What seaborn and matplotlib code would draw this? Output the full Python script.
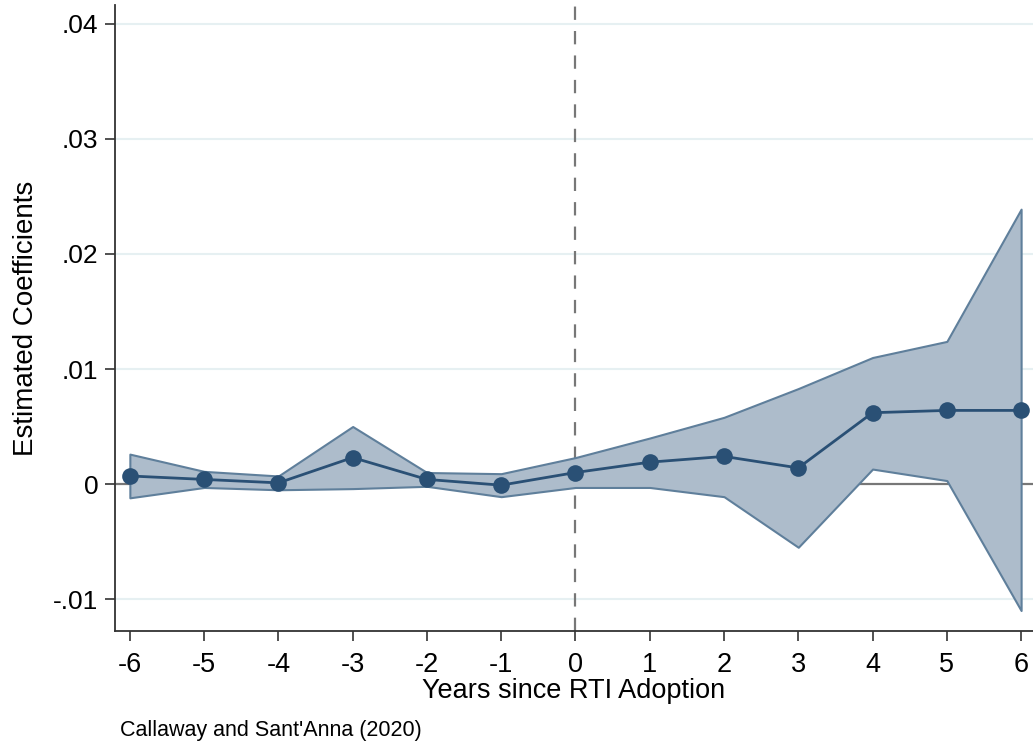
import numpy as np
import pandas as pd
import matplotlib
matplotlib.use("Agg")
import matplotlib.pyplot as plt
import seaborn as sns

years = [-6, -5, -4, -3, -2, -1, 0, 1, 2, 3, 4, 5, 6]
coef = [0.0007, 0.0004, 0.0001, 0.0023, 0.0004, -0.0001, 0.0010, 0.0019, 0.0024, 0.0014, 0.0062, 0.0064, 0.0064]
upper = [0.0026, 0.0011, 0.0007, 0.0050, 0.0010, 0.0009, 0.0023, 0.0040, 0.0058, 0.0083, 0.0110, 0.0124, 0.0239]
lower = [-0.0012, -0.0003, -0.0005, -0.0004, -0.0002, -0.0011, -0.0003, -0.0003, -0.0011, -0.0055, 0.0013, 0.0003, -0.0110]
yticks = [-0.01, 0, 0.01, 0.02, 0.03, 0.04]
ytick_labels = ["-.01", "0", ".01", ".02", ".03", ".04"]

df = pd.DataFrame({"year": years, "coef": coef, "upper": upper, "lower": lower})

sns.set_theme(style="white")
plt.rcParams["font.family"] = ["Liberation Sans", "DejaVu Sans"]
plt.rcParams["text.color"] = "black"
plt.rcParams["axes.labelcolor"] = "black"
plt.rcParams["xtick.color"] = "black"
plt.rcParams["ytick.color"] = "black"

fig = plt.figure(figsize=(10.33, 7.44), dpi=100)
ax = fig.add_axes([115 / 1033, 1 - 631 / 744, (1033 - 115) / 1033, (631 - 5) / 744])

dark = "#2a5075"
for yv in yticks:
    if yv != 0:
        ax.axhline(yv, color="#e6f0f2", lw=1.5, zorder=0)
ax.axhline(0, color="#777777", lw=1.6, zorder=1)
ax.axvline(0, color="#777777", lw=1.6, ls=(0, (6, 5)), zorder=1)

ax.fill_between(df["year"], df["lower"], df["upper"], facecolor="#adbccb",
                edgecolor="#5f7f9b", lw=1.5, zorder=2, clip_on=True)
sns.lineplot(data=df, x="year", y="coef", ax=ax, color=dark, lw=2,
             marker="o", markersize=12, markeredgewidth=0, zorder=3)

ax.set_xlim(-6.2, 6.16)
ax.set_ylim(-0.01278, 0.04165)
ax.set_xticks(years)
ax.set_xticklabels([str(y) for y in years], fontsize=19.5)
ax.set_yticks(yticks)
ax.set_yticklabels(ytick_labels, fontsize=19)
ax.tick_params(axis="both", which="both", length=7, width=1.2, color="#333333",
               direction="out", bottom=True, left=True)
ax.tick_params(axis="x", pad=8)
ax.tick_params(axis="y", pad=5)
ax.set_xlabel("Years since RTI Adoption", fontsize=19.5, labelpad=0)
ax.set_ylabel("Estimated Coefficients", fontsize=20, labelpad=10)
for s in ["top", "right"]:
    ax.spines[s].set_visible(False)
for s in ["left", "bottom"]:
    ax.spines[s].set_color("#333333")
    ax.spines[s].set_linewidth(1.3)

fig.text(120 / 1033, 1 - 736 / 744, "Callaway and Sant'Anna (2020)", fontsize=15.5, va="baseline")

fig.savefig("out.png", dpi=100)
